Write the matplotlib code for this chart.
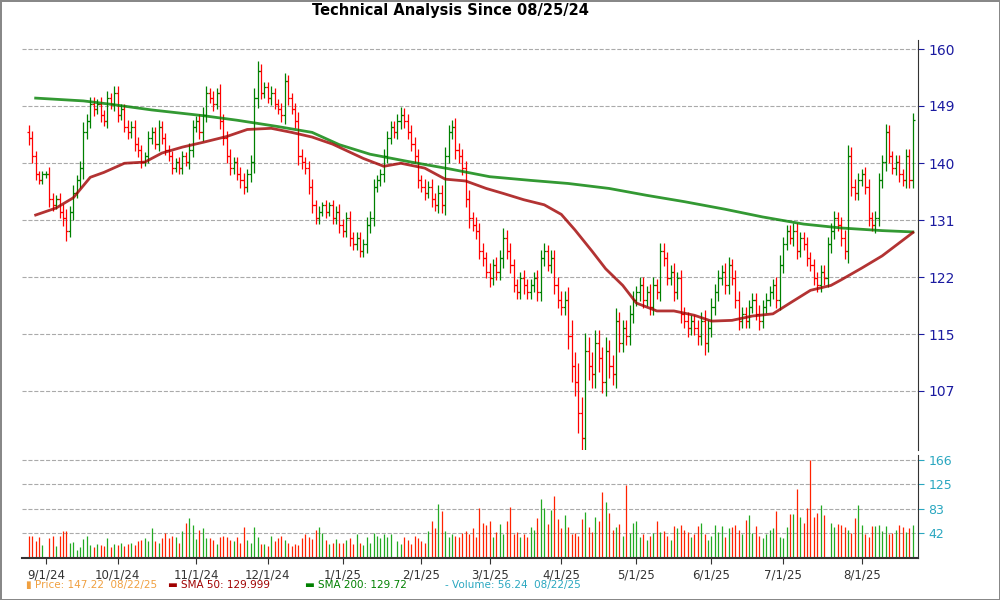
import matplotlib
matplotlib.use('Agg')
import matplotlib.pyplot as plt
import matplotlib.ticker as mticker
import numpy as np
import pandas as pd

dates = pd.bdate_range('2024-08-26', '2025-08-22')

close = [144, 141, 138, 137, 138, 138, 134, 133, 134, 132,
         131, 129, 132, 135, 137, 139, 145, 147, 150, 149,
         150, 148, 147, 151, 150, 152, 148, 149, 146, 145,
         146, 143, 142, 140, 141, 144, 145, 143, 146, 144,
         142, 141, 139, 140, 139, 141, 140, 142, 146, 147,
         145, 148, 152, 151, 150, 152, 147, 144, 141, 139,
         140, 138, 137, 136, 138, 140, 151, 156, 152, 153,
         151, 152, 150, 149, 148, 154, 151, 149, 147, 141,
         140, 139, 136, 133, 131, 132, 133, 132, 133, 131,
         132, 130, 129, 131, 128, 127, 128, 126, 127, 130,
         131, 136, 137, 138, 141, 144, 146, 145, 147, 148,
         147, 145, 143, 141, 137, 136, 135, 136, 134, 133,
         135, 133, 141, 145, 146, 142, 141, 139, 134, 131,
         130, 129, 126, 125, 123, 122, 124, 123, 125, 128,
         126, 124, 121, 120, 122, 121, 120, 121, 122, 120,
         125, 126, 124, 125, 121, 119, 118, 119, 114, 110,
         108, 104, 101, 112, 110, 109, 113, 111, 108, 112,
         110, 109, 116, 113, 115, 114, 117, 119, 120, 121,
         119, 120, 118, 121, 120, 126, 125, 122, 123, 120,
         122, 117, 116, 115, 116, 115, 114, 116, 113, 115,
         118, 120, 122, 123, 121, 124, 122, 119, 116, 117,
         116, 118, 119, 117, 116, 118, 119, 120, 121, 119,
         124, 127, 129, 128, 129, 126, 128, 127, 125, 124,
         122, 121, 123, 122, 127, 129, 131, 130, 128, 126,
         141, 136, 135, 137, 138, 136, 131, 130, 131, 137,
         140, 145, 141, 139, 140, 138, 137, 141, 137, 147.22]

spread = [2, 2, 1.5, 1, 1, 1, 2, 1.5, 1, 1.5,
          2, 2.5, 1.5, 2, 1.5, 2, 3, 2, 2, 2,
          1.5, 2, 1.5, 2, 1.5, 2, 2, 1.5, 1.5, 2,
          1.5, 2, 2, 1.5, 1, 2, 1.5, 1.5, 2, 1.5,
          1.5, 1.5, 1.5, 1, 1.5, 1.5, 1, 2, 2, 1.5,
          2, 2.5, 2, 1.5, 2, 1.5, 2.5, 2, 2, 2,
          1.5, 1.5, 2, 2, 1.5, 2, 3, 3, 2, 1.5,
          1.5, 2, 1.5, 1.5, 2, 2.5, 2, 1.5, 2, 2.5,
          2, 1.5, 2, 2, 1.5, 1.5, 1, 1.5, 1, 1.5,
          1.5, 2, 1.5, 1.5, 2, 1.5, 1.5, 1.5, 1.5, 2,
          2, 2, 1.5, 1.5, 2, 2, 1.5, 1.5, 2, 2.5,
          2, 2, 2, 2, 2, 1.5, 2, 1.5, 2, 1.5,
          2, 2, 2.5, 2, 2, 2.5, 2, 2, 2, 2.5,
          1.5, 2, 2, 2, 1.5, 2, 1.5, 2, 2, 2.5,
          2, 2, 1.5, 1.5, 1.5, 2, 1.5, 1.5, 1.5, 2,
          2, 2, 1.5, 2, 2, 2, 2, 2, 3, 3.5,
          3, 4, 3.5, 4, 3, 3, 3, 3, 2.5, 3,
          2.5, 2.5, 3, 2, 2, 2, 2, 2, 1.5, 2,
          2, 1.5, 2, 2, 1.5, 2, 2, 1.5, 1.5, 2,
          1.5, 2, 1.5, 2, 1.5, 1.5, 2, 2, 2.5, 2,
          2, 2, 2, 1.5, 2, 2, 1.5, 2, 2, 1.5,
          1.5, 1.5, 1.5, 1.5, 2, 1.5, 1.5, 1.5, 1.5, 2,
          2.5, 2, 1.5, 1.5, 2, 2, 1.5, 1.5, 2, 1.5,
          1.5, 1.5, 1.5, 1.5, 2, 2, 2, 1.5, 2, 2,
          3, 2.5, 2, 2, 1.5, 2, 2, 1.5, 2, 2,
          2, 2.5, 2, 1.5, 2, 2, 1.5, 2, 2, 2]

volume = [38, 38, 28, 35, 22, 0, 34, 37, 20, 38,
          45, 45, 25, 27, 14, 18, 32, 38, 22, 18,
          24, 22, 20, 34, 18, 24, 22, 26, 20, 24,
          26, 22, 28, 30, 34, 28, 50, 28, 26, 34,
          42, 34, 38, 36, 25, 46, 60, 68, 55, 32,
          48, 50, 34, 34, 30, 24, 36, 38, 36, 30,
          28, 36, 26, 52, 30, 26, 52, 36, 24, 24,
          20, 38, 28, 34, 38, 30, 26, 20, 24, 22,
          34, 40, 36, 32, 48, 52, 42, 30, 24, 26,
          32, 26, 26, 30, 34, 24, 40, 26, 22, 36,
          26, 42, 38, 34, 40, 36, 40, 0, 28, 24,
          36, 30, 24, 38, 34, 28, 26, 46, 62, 50,
          92, 80, 46, 36, 40, 38, 36, 42, 46, 40,
          50, 36, 84, 60, 56, 62, 36, 44, 58, 40,
          62, 86, 40, 44, 36, 40, 36, 52, 48, 68,
          100, 84, 58, 82, 104, 66, 50, 72, 52, 40,
          42, 38, 66, 78, 52, 44, 70, 62, 112, 94,
          76, 48, 52, 58, 38, 124, 42, 60, 62, 36,
          40, 30, 38, 42, 62, 44, 46, 38, 30, 54,
          50, 56, 48, 44, 36, 40, 54, 60, 40, 30,
          38, 56, 44, 54, 36, 50, 52, 56, 48, 40,
          64, 72, 42, 54, 38, 34, 40, 48, 50, 80,
          36, 34, 52, 74, 74, 116, 70, 60, 84, 166,
          70, 76, 90, 72, 0, 60, 52, 58, 56, 52,
          48, 42, 68, 90, 56, 40, 36, 54, 54, 56,
          46, 54, 40, 42, 48, 56, 52, 44, 50, 56.24]

sma_x = [2, 16, 24, 36, 51, 61, 73, 83, 91, 100,
         112, 123, 135, 147, 158, 170, 181, 192, 204, 215,
         227, 238, 250, 259]
sma200 = [151.0, 150.5, 149.9, 148.9, 147.9, 147.1, 146.0, 145.0, 142.9, 141.3,
          140.0, 138.9, 137.6, 137.0, 136.5, 135.7, 134.6, 133.6, 132.4, 131.2,
          130.1, 129.5, 129.1, 128.9]
sma50_x = [2, 8, 13, 18, 22, 28, 34, 39, 45, 51,
           58, 64, 71, 77, 83, 89, 98, 104, 109, 116,
           122, 128, 134, 139, 145, 151, 156, 160, 165, 169,
           174, 178, 184, 189, 195, 200, 206, 212, 218, 223,
           229, 235, 238, 244, 250, 259]
sma50 = [131.5, 132.6, 134.2, 137.5, 138.3, 139.8, 140.0, 141.5, 142.5, 143.3,
         144.3, 145.5, 145.7, 145.0, 144.2, 143.0, 140.6, 139.3, 139.8, 139.0,
         137.2, 136.9, 135.7, 134.9, 133.9, 133.1, 131.6, 129.2, 126.0, 123.4,
         121.0, 118.5, 117.4, 117.4, 116.8, 116.0, 116.1, 116.7, 117.0, 118.5,
         120.3, 121.0, 121.8, 123.5, 125.3, 128.8]

x = np.arange(len(dates))
close = np.array(close, dtype=float)
opn = np.concatenate([[close[0] + 1], close[:-1]])
spread = np.array(spread, dtype=float)
high = np.maximum(opn, close) + spread * 0.6
low = np.minimum(opn, close) - spread * 0.6
up = close >= opn
cols = np.where(up, '#008000', '#ff0000')

fig = plt.figure(figsize=(10, 6), dpi=100)
fig.patch.set_edgecolor('#888888')
fig.patch.set_linewidth(2)

ax = fig.add_axes([0.022, 0.25, 0.896, 0.683])
axv = fig.add_axes([0.022, 0.07, 0.896, 0.172], sharex=ax)

ax.vlines(x, low, high, colors=cols, lw=0.9)
ax.hlines(opn, x - 0.6, x, colors=cols, lw=0.9)
ax.hlines(close, x, x + 0.6, colors=cols, lw=0.9)
ax.plot(sma_x, sma200, color='#008000', lw=2, alpha=0.8)
ax.plot(sma50_x, sma50, color='#a00000', lw=2, alpha=0.8)

ax.set_yscale('log')
ax.set_ylim(99.6, 161.7)
ticks = [160, 149.6, 139.8, 130.7, 122.2, 114.2, 106.8]
ax.yaxis.set_major_locator(mticker.FixedLocator(ticks))
ax.yaxis.set_minor_locator(mticker.NullLocator())
ax.set_yticks(ticks)
ax.set_yticklabels(['160', '149', '140', '131', '122', '115', '107'])
ax.yaxis.tick_right()
ax.tick_params(axis='y', colors='#1a1aa0', labelcolor='#1a1aa0', labelsize=10, length=4)
ax.tick_params(axis='x', bottom=False, labelbottom=False)
ax.grid(axis='y', color='#aaaaaa', ls='--', lw=0.8)
for s in ['top', 'left', 'bottom']:
    ax.spines[s].set_visible(False)
ax.spines['right'].set_color('#333333')

vcols = np.where(up, '#22aa22', '#ff2200')
axv.vlines(x, 0, volume, colors=vcols, lw=0.9)
axv.set_ylim(0, 174.5)
axv.set_yticks([41.5, 83, 124.5, 166])
axv.set_yticklabels(['42', '83', '125', '166'])
axv.yaxis.tick_right()
axv.tick_params(axis='y', colors='#2aa7c0', labelcolor='#2aa7c0', labelsize=9, length=4)
axv.grid(axis='y', color='#aaaaaa', ls='--', lw=0.8)
for s in ['top', 'left']:
    axv.spines[s].set_visible(False)
axv.spines['right'].set_color('#333333')
axv.spines['bottom'].set_color('#333333')
axv.spines['bottom'].set_linewidth(1.5)

month_idx = []
month_lab = []
for m in pd.date_range('2024-09-01', '2025-08-01', freq='MS'):
    i = int(np.searchsorted(dates, m))
    month_idx.append(i)
    month_lab.append(f'{m.month}/{m.day}/{m.strftime("%y")}')
axv.set_xticks(month_idx)
axv.set_xticklabels(month_lab)
axv.tick_params(axis='x', labelsize=8.5, length=4, colors='#333333')
axv.set_xlim(-2, len(dates) + 0.5)

fig.text(0.45, 0.982, 'Technical Analysis Since 08/25/24', ha='center', va='center',
         fontsize=10.5, fontweight='bold')
fig.text(0.026, 0.025, '▮ Price: 147.22  08/22/25', color='#f0a040', fontsize=7.5, va='center')
fig.text(0.168, 0.025, '▬ SMA 50: 129.999', color='#a00000', fontsize=7.5, va='center')
fig.text(0.305, 0.025, '▬ SMA 200: 129.72', color='#008000', fontsize=7.5, va='center')
fig.text(0.445, 0.025, '- Volume: 56.24  08/22/25', color='#2aa7c0', fontsize=7.5, va='center')

fig.savefig('out.png', edgecolor=fig.get_edgecolor())
